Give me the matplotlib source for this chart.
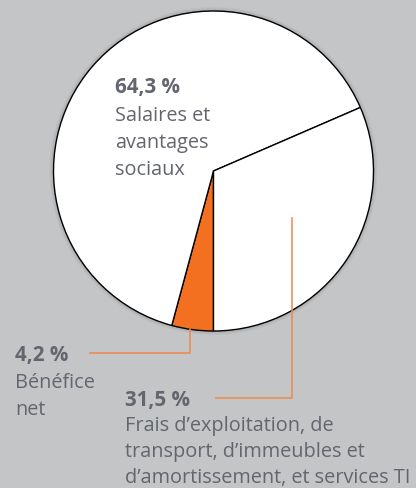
import matplotlib
matplotlib.use('Agg')
import matplotlib.pyplot as plt
from matplotlib.patches import Circle

# data
labels = ['Bénéfice net', 'Salaires et avantages sociaux',
          "Frais d’exploitation, de transport, d’immeubles et d’amortissement, et services TI"]
shares = [4.2, 64.3, 31.5]
pct_text = ['4,2 %', '64,3 %', '31,5 %']
slice_colors = ['#f37021', '#ffffff', '#ffffff']

BG = '#c4c5c7'
TXT = '#63666e'
LEAD = '#f0874a'
W, H = 416, 489

plt.rcParams['font.family'] = ['Open Sans', 'DejaVu Sans']

fig = plt.figure(figsize=(W / 100, H / 100), dpi=100, facecolor=BG)
ax = fig.add_axes([0, 0, 1, 1])

cx, cy, r = 213.5, H - 172, 160

# soft shadow around the pie
for i, a in enumerate([0.05, 0.05, 0.06, 0.08]):
    ax.add_patch(Circle((cx, cy), r + 4 - i, color='#555555', alpha=a, lw=0, zorder=1))

ax.pie(shares, colors=slice_colors, startangle=270, counterclock=False,
       center=(cx, cy), radius=r, frame=True,
       wedgeprops=dict(edgecolor='black', linewidth=1.0, zorder=2))
ax.set_xlim(0, W)
ax.set_ylim(0, H)
ax.set_aspect('equal')
ax.axis('off')

fs = 14.3

def block(x, y_base, head, lines, gap, step=27):
    ax.text(x, H - y_base, head, fontsize=14.8, fontweight='bold', color=TXT,
            ha='left', va='baseline', zorder=5)
    for k, ln in enumerate(lines):
        ax.text(x, H - y_base - gap - k * step, ln, fontsize=fs, color=TXT,
                ha='left', va='baseline', zorder=5)

block(115, 93, pct_text[1], ['Salaires et', 'avantages', 'sociaux'], gap=28)
block(15, 361, pct_text[0], ['Bénéfice', 'net'], gap=27)
block(125, 406, pct_text[2], ["Frais d’exploitation, de", "transport, d’immeubles et",
                              "d’amortissement, et services TI"], gap=25, step=26)

# leader lines
ax.plot([90, 190, 190], [H - 354, H - 354, H - 330], color=LEAD, lw=1.1, zorder=4)
ax.plot([216, 292, 292], [H - 399, H - 399, H - 219], color=LEAD, lw=1.1, zorder=4)

fig.savefig('out.png', dpi=100, facecolor=BG)
